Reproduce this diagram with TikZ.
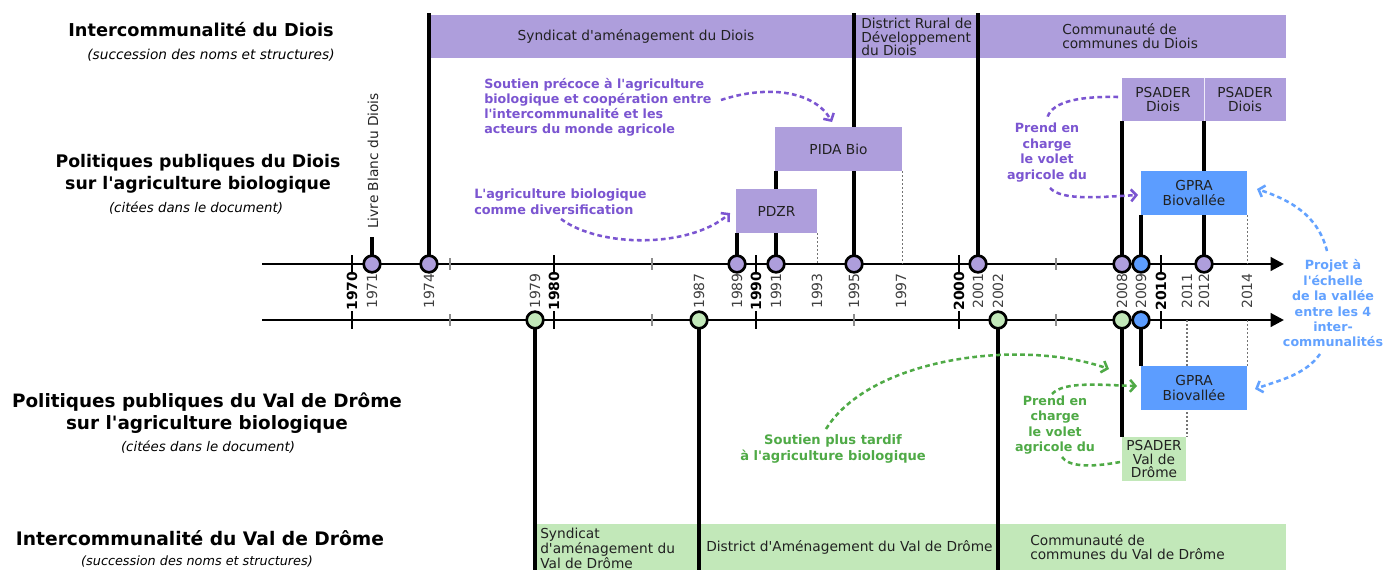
\documentclass[tikz,border=0pt]{standalone}
\usepackage{fontspec}
\setmainfont{DejaVu Sans}[Ligatures=TeXOff]
\usetikzlibrary{arrows.meta}
\definecolor{pfill}{HTML}{AE9EDC}
\definecolor{ptext}{HTML}{7B55D1}
\definecolor{gfill}{HTML}{C2E8B9}
\definecolor{gtext}{HTML}{4FAA46}
\definecolor{bfill}{HTML}{5C9DFF}
\definecolor{btext}{HTML}{63A2FF}
\newcommand\myfs[2]{\fontsize{#1}{#2}\selectfont}
\begin{document}
\begin{tikzpicture}[x=0.75pt,y=-0.75pt,
  boxtxt/.style={inner sep=0pt, align=center, text=black!87, font=\myfs{10.3}{10.8}},
  pbox/.style={rectangle, fill=pfill, inner sep=0pt, align=center, text=black!87, font=\myfs{10.3}{10.5}},
  gbox/.style={rectangle, fill=gfill, inner sep=0pt, align=center, text=black!87, font=\myfs{10.3}{10}},
  bbox/.style={rectangle, fill=bfill, inner sep=0pt, align=center, text=black!87, font=\myfs{10.3}{11}},
  stem/.style={line width=2.3pt, black},
  guide/.style={line width=0.8pt, black!55, dash pattern=on 1.5pt off 1.5pt},
  axisline/.style={line width=2.2pt, black, -{Triangle[length=10pt,width=10pt]}},
  dtick/.style={line width=1.6pt, black},
  gtick/.style={line width=1.6pt, black!45},
  evt/.style={circle, draw=black, line width=2pt, minimum size=12.5pt, inner sep=0pt},
  yr/.style={rotate=90, inner sep=0pt, text=black!75, font=\myfs{10.5}{10.5}},
  yrb/.style={rotate=90, inner sep=0pt, text=black, font=\myfs{10.5}{10.5}\bfseries},
  ttl/.style={align=center, inner sep=0pt, font=\myfs{13}{16.5}\bfseries},
  sub/.style={align=center, inner sep=0pt, font=\myfs{10}{11}\itshape},
  note/.style={inner sep=0pt, font=\myfs{9.5}{11.3}\bfseries},
  ann/.style={line width=1.9pt, dash pattern=on 3.5pt off 2.5pt},
  annarr/.style={ann, -{Straight Barb[length=4pt,width=9pt]}}
]
\clip (0,0) rectangle (1384,569);
\fill[white] (0,0) rectangle (1384,569);

% ---------- left titles ----------
\node[ttl, font=\myfs{13.3}{16.5}\bfseries] (t1) at (201,30) {Intercommunalité du Diois};
\node[sub, font=\myfs{10.25}{11}\itshape] (s1) at (211,55) {(succession des noms et structures)};
\node[ttl] (t2) at (198,174) {Politiques publiques du Diois\\sur l'agriculture biologique};
\node[sub] (s2) at (196,208) {(citées dans le document)};
\node[ttl, font=\myfs{13.8}{16.5}\bfseries] (t3) at (207,413) {Politiques publiques du Val de Drôme\\sur l'agriculture biologique};
\node[sub] (s3) at (208,447) {(citées dans le document)};
\node[ttl, font=\myfs{14}{16.5}\bfseries] (t4) at (200,538) {Intercommunalité du Val de Drôme};
\node[sub, font=\myfs{9.6}{11}\itshape] (s4) at (197,561) {(succession des noms et structures)};

% ---------- bars ----------
\node[pbox, minimum width=642.75pt, minimum height=32.25pt] (topbar) at (857.5,36.5) {};
\node[boxtxt] (tb1) at (636,36) {Syndicat d'aménagement du Diois};
\node[boxtxt, align=left, anchor=west, font=\myfs{10.3}{10.1}] (tb2) at (861,37) {District Rural de\\Développement\\du Diois};
\node[boxtxt, align=left, anchor=west] (tb3) at (1062,36) {Communauté de\\communes du Diois};

\node[gbox, minimum width=563.25pt, minimum height=38.25pt] (botbar) at (910.5,549.5) {};
\node[boxtxt, align=left, anchor=west, font=\myfs{10.3}{11.25}] (bb1) at (540,548) {Syndicat\\d'aménagement du\\Val de Drôme};
\node[boxtxt, anchor=west] (bb2) at (706,547) {District d'Aménagement du Val de Drôme};
\node[boxtxt, align=left, anchor=west] (bb3) at (1030,547) {Communauté de\\communes du Val de Drôme};

% ---------- axes ----------
\coordinate (u0) at (262,264); \coordinate (u1) at (1284,264);
\coordinate (l0) at (262,320); \coordinate (l1) at (1284,320);
\draw[axisline] (u0) -- (u1);
\draw[axisline] (l0) -- (l1);
\foreach \x in {352,554,756,959,1161} {
  \draw[dtick] (\x,255) -- (\x,273);
  \draw[dtick] (\x,311) -- (\x,329);
}
\foreach \x in {450,652,1056} { \draw[gtick] (\x,258) -- (\x,270); }
\foreach \x in {450,652,854,1056} { \draw[gtick] (\x,314) -- (\x,326); }

% ---------- year labels ----------
\foreach \x/\y in {352/1970,554/1980,756/1990,959/2000,1161/2010} {
  \node[yrb] at (\x,291) {\y};
}
\foreach \x/\y in {372/1971,429/1974,535/1979,699/1987,737/1989,776/1991,817/1993,854/1995,901/1997,978/2001,998/2002,1122/2008,1141/2009,1187/2011,1204/2012,1247/2014} {
  \node[yr] at (\x,291) {\y};
}

% ---------- event positions ----------
\coordinate (p1971) at (372,264);
\coordinate (p1974) at (429,264);
\coordinate (p1989) at (737,264);
\coordinate (p1991) at (776,264);
\coordinate (p1995) at (854,264);
\coordinate (p2001) at (978,264);
\coordinate (p2008u) at (1122,264);
\coordinate (p2009u) at (1141,264);
\coordinate (p2012) at (1204,264);
\coordinate (p1979) at (535,320);
\coordinate (p1987) at (699,320);
\coordinate (p2002) at (998,320);
\coordinate (p2008l) at (1122,320);
\coordinate (p2009l) at (1141,320);

% free ends
\coordinate (e1974) at (429,13);
\coordinate (e1995) at (854,13);
\coordinate (e2001) at (978,13);
\coordinate (e1971) at (372,237);
\coordinate (e1979) at (535,575);
\coordinate (e1987) at (699,575);
\coordinate (e2002) at (998,575);

% ---------- long stems ----------
\draw[stem] (p1974) -- (e1974);
\draw[stem] (p1995) -- (e1995);
\draw[stem] (p2001) -- (e2001);
\draw[stem] (p1971) -- (e1971);
\draw[stem] (p1979) -- (e1979);
\draw[stem] (p1987) -- (e1987);
\draw[stem] (p2002) -- (e2002);

\node[rotate=90, anchor=west, inner sep=0pt, text=black!85, font=\myfs{10.3}{10}] (livre) at (373,229) {Livre Blanc du Diois};

% ---------- policy boxes ----------
\draw[stem] (p1991) -- (776,171);
\draw[stem] (p2012) -- (1204,121);
\draw[stem] (p2008u) -- (1122,121);
\draw[guide] (1187,320) -- (1187,437);

\node[pbox, minimum width=95.25pt, minimum height=33pt] (PIDA) at (838.5,149) {PIDA Bio};
\node[pbox, minimum width=60.75pt, minimum height=33pt] (PDZR) at (776.5,211) {PDZR};
\node[pbox, minimum width=61.5pt, minimum height=32.25pt] (PS1) at (1163,99.5) {PSADER\\Diois};
\node[pbox, minimum width=61.5pt, minimum height=32.25pt] (PS2) at (1245,99.5) {PSADER\\Diois};
\draw[white!80!pfill, line width=0.6pt] (PS1.north east) -- (PS1.south east);
\node[bbox, minimum width=79.5pt, minimum height=33pt] (G1) at (1194,193) {GPRA\\Biovallée};
\node[bbox, minimum width=79.5pt, minimum height=33pt] (G2) at (1194,388) {GPRA\\Biovallée};
\node[gbox, minimum width=48pt, minimum height=33pt] (PSV) at (1154,459) {PSADER\\Val de\\Drôme};

\draw[stem] (p1989) -- (p1989 |- PDZR.south);
\draw[stem] (p2009u) -- (p2009u |- G1.south);
\draw[stem] (p2008l) -- (p2008l |- PSV.north);
\draw[stem] (p2009l) -- (p2009l |- G2.north);

\draw[guide] (PDZR.south east) -- (PDZR.south east |- p1989);
\draw[guide] (PIDA.south east) -- (PIDA.south east |- p1989);
\draw[guide] (G1.south east) -- (G1.south east |- p1989);
\draw[guide] (G2.north east) -- (G2.north east |- p2009l);

% ---------- circles ----------
\foreach \p in {p1971,p1974,p1989,p1991,p1995,p2001,p2008u,p2012} {
  \node[evt, fill=pfill] at (\p) {};
}
\node[evt, fill=bfill] at (p2009u) {};
\foreach \p in {p1979,p1987,p2002,p2008l} {
  \node[evt, fill=gfill] at (\p) {};
}
\node[evt, fill=bfill] at (p2009l) {};

% ---------- annotations : purple ----------
\node[note, text=ptext, align=left, anchor=west] (n1) at (484,107.5) {Soutien précoce à l'agriculture\\biologique et coopération entre\\l'intercommunalité et les\\acteurs du monde agricole};
\coordinate (n1s) at (721,100);
\coordinate (n1e) at (832,122);
\draw[annarr, ptext] (n1s) .. controls (770,84) and (815,92) .. (n1e);

\node[note, text=ptext, align=left, anchor=west, font=\myfs{9.6}{12}\bfseries] (n2) at (474,202) {L'agriculture biologique\\comme diversification};
\coordinate (n2s) at (561,219);
\coordinate (n2e) at (730,213);
\draw[annarr, ptext] (n2s) .. controls (600,248) and (690,248) .. (n2e);

\node[note, text=ptext, align=center, font=\myfs{9.5}{11.75}\bfseries] (n3) at (1047,152.5) {Prend en\\charge\\le volet\\agricole du};
\coordinate (n3a) at (1118,97);
\coordinate (n3b) at (1047,119);
\draw[ann, ptext] (n3a) .. controls (1072,96) and (1050,104) .. (n3b);
\coordinate (n3c) at (1050,188);
\coordinate (n3d) at (1138,195);
\draw[annarr, ptext] (n3c) .. controls (1062,201) and (1100,197) .. (n3d);

% ---------- annotations : blue ----------
\node[note, text=btext, align=center, font=\myfs{9.5}{11.55}\bfseries] (n4) at (1333,303.5) {Projet à\\l'échelle\\de la vallée\\entre les 4\\inter-\\communalités};
\coordinate (n4a) at (1327,251);
\coordinate (n4b) at (1257,189);
\draw[annarr, btext] (n4a) .. controls (1318,215) and (1290,200) .. (n4b);
\coordinate (n4c) at (1320,354);
\coordinate (n4d) at (1255,389);
\draw[annarr, btext] (n4c) .. controls (1305,375) and (1280,380) .. (n4d);

% ---------- annotations : green ----------
\node[note, text=gtext, align=center, font=\myfs{9.8}{12}\bfseries] (n5) at (833,449) {Soutien plus tardif\\à l'agriculture biologique};
\coordinate (n5s) at (826,429);
\coordinate (n5e) at (1109,369);
\draw[annarr, gtext] (n5s) .. controls (870,358) and (1020,338) .. (n5e);

\node[note, text=gtext, align=center, font=\myfs{9.5}{11.5}\bfseries] (n6) at (1055,425) {Prend en\\charge\\le volet\\agricole du};
\coordinate (n6a) at (1052,394);
\coordinate (n6b) at (1137,386);
\draw[annarr, gtext] (n6a) .. controls (1064,381) and (1100,385) .. (n6b);
\coordinate (n6c) at (1120,462);
\coordinate (n6d) at (1062,457);
\draw[ann, gtext] (n6c) .. controls (1088,468) and (1068,466) .. (n6d);
\end{tikzpicture}
\end{document}
